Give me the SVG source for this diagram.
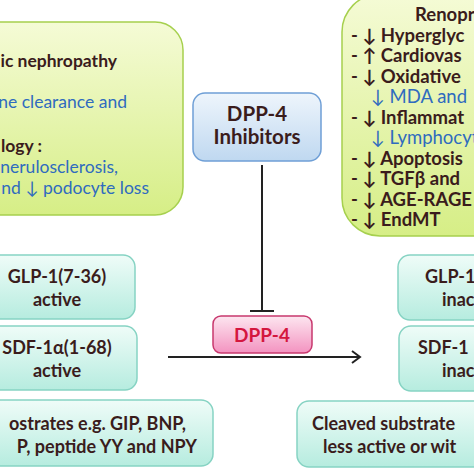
<svg xmlns="http://www.w3.org/2000/svg" width="474" height="474" viewBox="0 0 474 474">
<defs>
<linearGradient id="gGreen" x1="0" y1="0" x2="0" y2="1"><stop offset="0" stop-color="#f5fbd6"/><stop offset="1" stop-color="#d6ee86"/></linearGradient>
<linearGradient id="gBlue" x1="0" y1="0" x2="0" y2="1"><stop offset="0" stop-color="#eef5fc"/><stop offset="1" stop-color="#bfd8f0"/></linearGradient>
<linearGradient id="gTeal" x1="0" y1="0" x2="0" y2="1"><stop offset="0" stop-color="#effcf8"/><stop offset="1" stop-color="#b6ecdf"/></linearGradient>
<linearGradient id="gPink" x1="0" y1="0" x2="0" y2="1"><stop offset="0" stop-color="#fde6f0"/><stop offset="1" stop-color="#f393c0"/></linearGradient>
</defs>
<style>
.t{font-family:Lato,"Liberation Sans",sans-serif}
.b{font-weight:bold;fill:#3a1c1c}
.bl{fill:#2f6bbf}
.green{fill:url(#gGreen);stroke:#a6d04e;stroke-width:1.5}
.blue{fill:url(#gBlue);stroke:#6f9fd6;stroke-width:1.5}
.teal{fill:url(#gTeal);stroke:#86d3c3;stroke-width:1.5}
.pink{fill:url(#gPink);stroke:#c8386e;stroke-width:1.5}
.ln{stroke:#222;stroke-width:2;fill:none}
</style>

<g id="nephropathy">
<rect class="green" x="-30" y="22" width="213" height="193" rx="28"/>
<text class="t b" x="117" y="67" font-size="17.5" text-anchor="end">ic nephropathy</text>
<text class="t bl" x="127" y="108" font-size="17.5" text-anchor="end">ne clearance and</text>
<text class="t b" x="42" y="152" font-size="17.5" text-anchor="end">logy :</text>
<text class="t bl" x="118" y="173" font-size="17.5" text-anchor="end">nerulosclerosis,</text>
<text class="t bl" x="149" y="194" font-size="17.5" text-anchor="end">nd ↓ podocyte loss</text>
</g>

<g id="renoprotective">
<rect class="green" x="342" y="-6" width="170" height="242" rx="38"/>
<g class="t" font-size="18.5">
<text class="b" x="415" y="21">Renopr</text>
<text class="b" x="351" y="42">- ↓ Hyperglyc</text>
<text class="b" x="351" y="62">- ↑ Cardiovas</text>
<text class="b" x="351" y="83">- ↓ Oxidative</text>
<text class="bl" x="371" y="103">↓ MDA and</text>
<text class="b" x="351" y="124">- ↓ Inflammat</text>
<text class="bl" x="371" y="144">↓ Lymphocyt</text>
<text class="b" x="351" y="165">- ↓ Apoptosis</text>
<text class="b" x="351" y="185">- ↓ TGFβ and</text>
<text class="b" x="351" y="206">- ↓ AGE-RAGE</text>
<text class="b" x="351" y="226">- ↓ EndMT</text>
</g>
</g>

<g id="dpp4-inhibitors">
<rect class="blue" x="193" y="93" width="128" height="68" rx="12"/>
<text class="t b" x="257" y="121" font-size="20.5" text-anchor="middle">DPP-4</text>
<text class="t b" x="257" y="144" font-size="20.5" text-anchor="middle">Inhibitors</text>
</g>

<g id="dpp4">
<rect class="pink" x="213" y="316" width="99" height="37" rx="8"/>
<text class="t" x="262" y="342" font-size="19" font-weight="bold" fill="#d4163f" text-anchor="middle">DPP-4</text>
</g>

<g id="glp1-active">
<rect class="teal" x="-20" y="255" width="155" height="64" rx="12"/>
<text class="t b" x="57" y="283" font-size="18" text-anchor="middle">GLP-1(7-36)</text>
<text class="t b" x="57" y="306" font-size="18" text-anchor="middle">active</text>
</g>

<g id="sdf1-active">
<rect class="teal" x="-20" y="326" width="157" height="64" rx="12"/>
<text class="t b" x="57" y="354" font-size="18" text-anchor="middle">SDF-1α(1-68)</text>
<text class="t b" x="57" y="377" font-size="18" text-anchor="middle">active</text>
</g>

<g id="substrates">
<rect class="teal" x="-30" y="400" width="243" height="66" rx="12"/>
<text class="t b" x="186" y="430" font-size="18" text-anchor="end">ostrates e.g. GIP, BNP,</text>
<text class="t b" x="197" y="453" font-size="18" text-anchor="end">P, peptide YY and NPY</text>
</g>

<g id="glp1-inactive">
<rect class="teal" x="398" y="255" width="130" height="65" rx="12"/>
<text class="t b" x="425" y="283" font-size="18">GLP-1</text>
<text class="t b" x="442" y="306" font-size="18">inac</text>
</g>

<g id="sdf1-inactive">
<rect class="teal" x="399" y="326" width="130" height="65" rx="12"/>
<text class="t b" x="418" y="354" font-size="18">SDF-1</text>
<text class="t b" x="442" y="377" font-size="18">inac</text>
</g>

<g id="cleaved">
<rect class="teal" x="297" y="401" width="230" height="66" rx="12"/>
<text class="t b" x="312" y="430" font-size="18">Cleaved substrate</text>
<text class="t b" x="323" y="453" font-size="18">less active or wit</text>
</g>

<g id="connectors">
<path class="ln" d="M262 165 V311 M250 311 H274"/>
<path class="ln" d="M168 357 H360 M352 351 L360 357 L352 363"/>
</g>
</svg>
